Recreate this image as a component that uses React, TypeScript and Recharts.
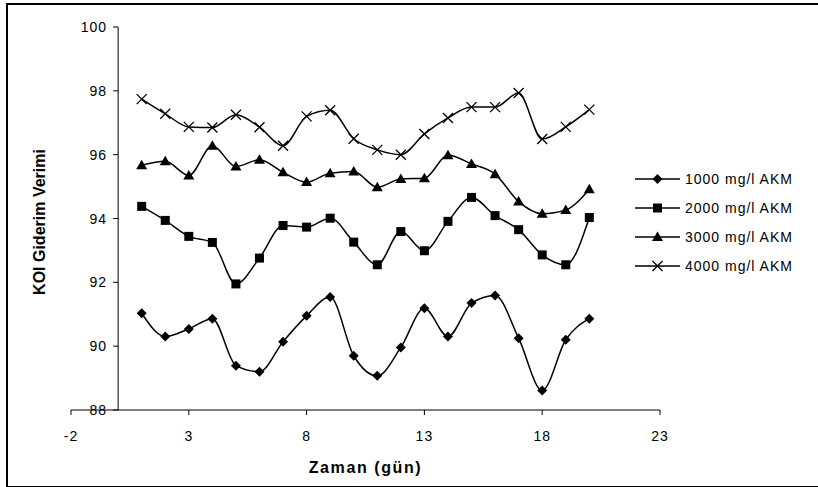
import { LineChart, Line, XAxis, YAxis, ReferenceLine } from 'recharts'

const days = [1, 2, 3, 4, 5, 6, 7, 8, 9, 10, 11, 12, 13, 14, 15, 16, 17, 18, 19, 20]
const s1000 = [91.03, 90.3, 90.54, 90.86, 89.39, 89.2, 90.14, 90.95, 91.54, 89.7, 89.07, 89.96, 91.19, 90.3, 91.35, 91.59, 90.25, 88.61, 90.2, 90.86]
const s2000 = [94.38, 93.94, 93.44, 93.25, 91.95, 92.76, 93.78, 93.73, 94.01, 93.26, 92.55, 93.59, 92.99, 93.91, 94.66, 94.09, 93.65, 92.86, 92.55, 94.03]
const s3000 = [95.67, 95.79, 95.35, 96.28, 95.63, 95.84, 95.45, 95.14, 95.42, 95.47, 94.98, 95.24, 95.26, 95.98, 95.71, 95.39, 94.53, 94.15, 94.27, 94.92]
const s4000 = [97.74, 97.28, 96.87, 96.85, 97.25, 96.86, 96.28, 97.2, 97.39, 96.5, 96.15, 96.0, 96.65, 97.15, 97.49, 97.49, 97.93, 96.49, 96.87, 97.41]

const xTicks = [-2, 3, 8, 13, 18, 23]
const yTicks = [88, 90, 92, 94, 96, 98, 100]
const seriesNames = ['1000 mg/l AKM', '2000 mg/l AKM', '3000 mg/l AKM', '4000 mg/l AKM']

const data = days.map((d, i) => ({ day: d, s1000: s1000[i], s2000: s2000[i], s3000: s3000[i], s4000: s4000[i] }))

const FONT = '"Liberation Sans", Arial, sans-serif'
const W = 818
const H = 487
const M = { top: 27, right: 158, left: 70 }
const Y_AXIS_W = 1
const X_AXIS_H = 77
const X_MIN = -2
const X_MAX = 23
// y axis crosses at x = 0
const PLOT_L = M.left + Y_AXIS_W
const Y_CROSS = PLOT_L + ((0 - X_MIN) / (X_MAX - X_MIN)) * (W - PLOT_L - M.right)

function marker(kind: string, cx: number, cy: number, key?: any) {
  if (kind === 'diamond')
    return <path key={key} d={`M${cx},${cy - 5}L${cx + 5},${cy}L${cx},${cy + 5}L${cx - 5},${cy}Z`} fill="#000" />
  if (kind === 'square') return <rect key={key} x={cx - 4.5} y={cy - 4.5} width={9} height={9} fill="#000" />
  if (kind === 'triangle')
    return <path key={key} d={`M${cx},${cy - 5.5}L${cx + 5.5},${cy + 4}L${cx - 5.5},${cy + 4}Z`} fill="#000" />
  return (
    <path key={key} d={`M${cx - 5},${cy - 5}L${cx + 5},${cy + 5}M${cx + 5},${cy - 5}L${cx - 5},${cy + 5}`} stroke="#000" strokeWidth={1.3} fill="none" />
  )
}

const kinds = ['diamond', 'square', 'triangle', 'cross']

function dotFor(kind: string) {
  return (p: any) => marker(kind, p.cx, p.cy, `${kind}-${p.index}`)
}

function YTick(props: any) {
  const { y, payload } = props
  return (
    <g>
      <line x1={Y_CROSS - 5} x2={Y_CROSS} y1={y} y2={y} stroke="#000" />
      <text x={Y_CROSS - 11} y={y} dy="0.36em" textAnchor="end" fontSize={14} letterSpacing={1} fontFamily={FONT} fill="#000">
        {payload.value}
      </text>
    </g>
  )
}

function LegendBox() {
  const rows = [179, 208, 237, 266]
  return (
    <svg width={190} height={130} style={{ position: 'absolute', left: 628, top: 160 }}>
      {seriesNames.map((n, i) => {
        const y = rows[i] - 160
        return (
          <g key={n}>
            <line x1={7} x2={52} y1={y} y2={y} stroke="#000" strokeWidth={1.5} />
            {marker(kinds[i], 29.5, y)}
            <text x={57} y={y} dy="0.36em" fontSize={14} letterSpacing={1} fontFamily={FONT} fill="#000">
              {n}
            </text>
          </g>
        )
      })}
    </svg>
  )
}

export default function App() {
  return (
    <div style={{ position: 'absolute', left: 0, top: 0, width: W, height: H, overflow: 'hidden', background: '#fff' }}>
      <div style={{ position: 'absolute', left: 6, top: 3, width: 900, height: 481, border: '2px solid #000' }} />
      <svg width={60} height={H} style={{ position: 'absolute', left: 0, top: 0 }}>
        <text x={45} y={222} transform="rotate(-90 45 222)" textAnchor="middle" fontSize={16} fontWeight="bold" fontFamily={FONT} fill="#000">
          KOI Giderim Verimi
        </text>
      </svg>
      <LineChart width={W} height={H} data={data} margin={{ top: M.top, right: M.right, bottom: 0, left: M.left }} style={{ position: 'absolute', left: 0, top: 0 }}>
        <XAxis
          dataKey="day"
          type="number"
          domain={[X_MIN, X_MAX]}
          ticks={xTicks}
          height={X_AXIS_H}
          stroke="#000"
          tickSize={5}
          tickMargin={16}
          tick={{ fontSize: 14, fill: '#000', fontFamily: FONT, letterSpacing: 1 }}
          label={{ value: 'Zaman (gün)', position: 'insideBottom', offset: 14, fontSize: 16, fontWeight: 'bold', letterSpacing: 1.6, fontFamily: FONT, fill: '#000' }}
        />
        <YAxis
          type="number"
          domain={[88, 100]}
          ticks={yTicks}
          width={Y_AXIS_W}
          axisLine={false}
          tickLine={false}
          tick={YTick}
        />
        <ReferenceLine x={0} stroke="#000" strokeWidth={1} />
        <Line dataKey="s1000" name={seriesNames[0]} type="monotone" stroke="#000" strokeWidth={1.5} dot={dotFor('diamond')} isAnimationActive={false} />
        <Line dataKey="s2000" name={seriesNames[1]} type="monotone" stroke="#000" strokeWidth={1.5} dot={dotFor('square')} isAnimationActive={false} />
        <Line dataKey="s3000" name={seriesNames[2]} type="monotone" stroke="#000" strokeWidth={1.5} dot={dotFor('triangle')} isAnimationActive={false} />
        <Line dataKey="s4000" name={seriesNames[3]} type="monotone" stroke="#000" strokeWidth={1.5} dot={dotFor('cross')} isAnimationActive={false} />
      </LineChart>
      <LegendBox />
    </div>
  )
}
